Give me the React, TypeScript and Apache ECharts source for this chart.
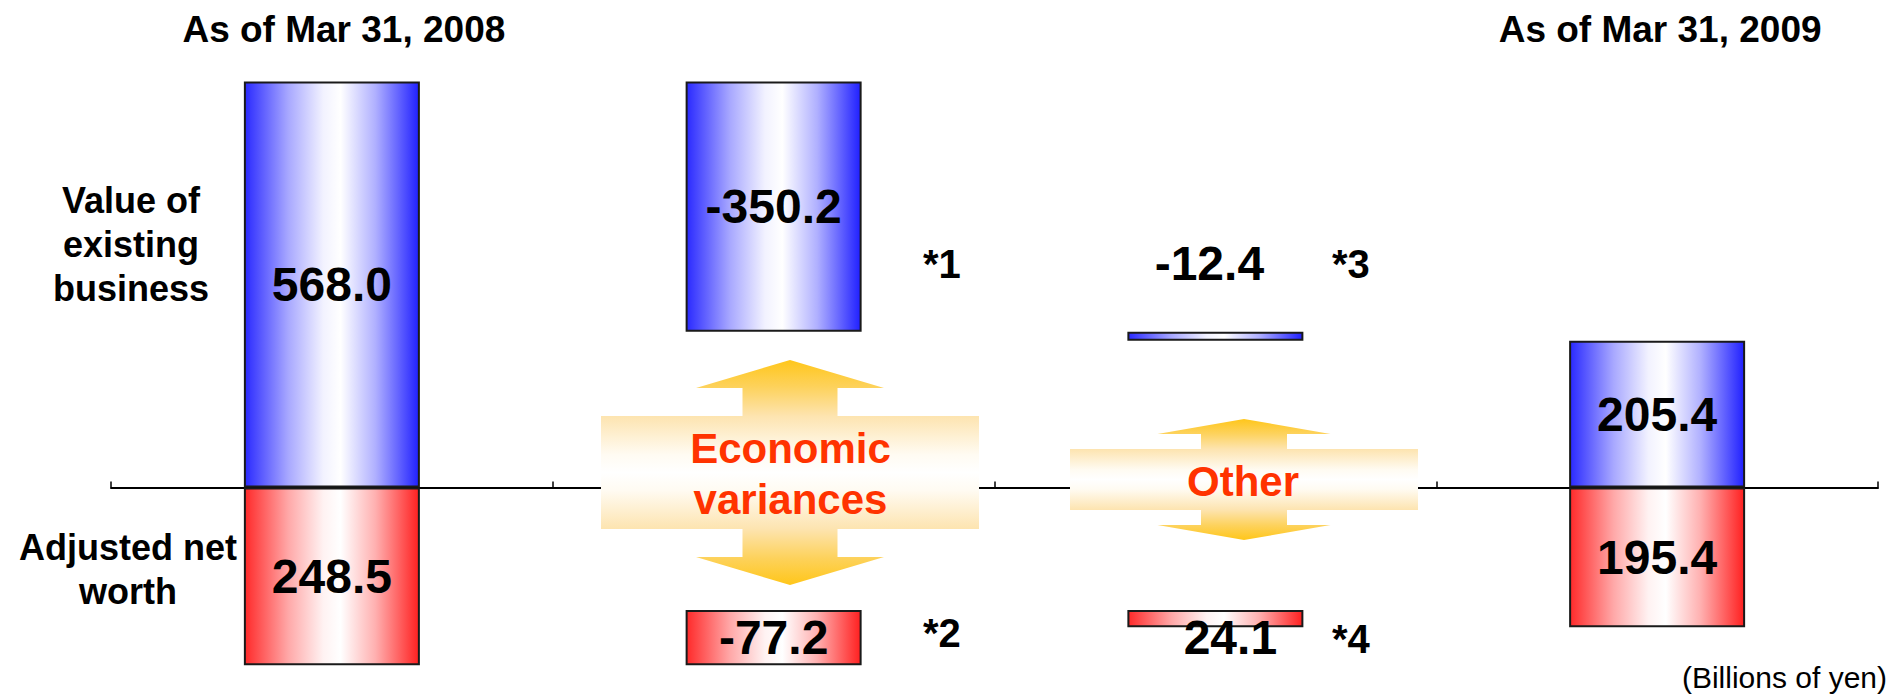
import React, { useEffect, useRef } from "react";
import * as echarts from "echarts";

// Embedded value bridge, billions of yen
const categories = ["As of Mar 31, 2008", "Economic variances", "Other", "As of Mar 31, 2009"];
// opening balance, two movements, closing balance
const existingBusiness = [568.0, -350.2, -12.4, 205.4];
const netWorth = [248.5, -77.2, 24.1, 195.4];
const rowLabels = ["Value of\nexisting\nbusiness", "Adjusted net\nworth"];
const footnotes = ["*1", "*2", "*3", "*4"];
const unitNote = "(Billions of yen)";

const FONT = '"Liberation Sans", Arial, Helvetica, sans-serif';

// Split a bridge into an invisible offset and the visible block.
// dir = 1 stacks upward from the axis, dir = -1 downward.
function bridge(values: number[], dir: number) {
  const base: number[] = [];
  const size: number[] = [];
  let level = 0;
  values.forEach((v, i) => {
    if (i === 0 || i === values.length - 1) {
      base.push(0);
      size.push(dir * v);
      level = v;
    } else {
      const next = level + v;
      base.push(dir * Math.min(level, next));
      size.push(dir * Math.abs(v));
      level = next;
    }
  });
  return { base, size };
}

const hGradient = (edgeL: string, mid1: string, light: string, mid2: string, edgeR: string) => ({
  type: "linear",
  x: 0,
  y: 0,
  x2: 1,
  y2: 0,
  colorStops: [
    { offset: 0, color: edgeL },
    { offset: 0.25, color: mid1 },
    { offset: 0.45, color: light },
    { offset: 0.55, color: "#FFFFFF" },
    { offset: 0.75, color: mid2 },
    { offset: 1, color: edgeR },
  ],
});

const blueFill = hGradient("#2A2AFF", "#A8A8FF", "#F2F2FF", "#B0B0FF", "#2020FF");
const redFill = hGradient("#FF2A2A", "#FFA8A8", "#FFF2F2", "#FFB0B0", "#FF2020");

const arrowFill = {
  type: "linear",
  x: 0,
  y: 0,
  x2: 0,
  y2: 1,
  colorStops: [
    { offset: 0, color: "#FFC61A" },
    { offset: 0.12, color: "#FDD25C" },
    { offset: 0.25, color: "#FDE4B0" },
    { offset: 0.42, color: "#FFFBF2" },
    { offset: 0.5, color: "#FFFFFF" },
    { offset: 0.58, color: "#FFFBF2" },
    { offset: 0.75, color: "#FDE4B0" },
    { offset: 0.88, color: "#FDD25C" },
    { offset: 1, color: "#FFC61A" },
  ],
};

// Cross-shaped double arrow (up/down heads with a wide horizontal band)
function doubleArrow(
  cx: number,
  tip: number,
  headBase: number,
  bandTop: number,
  bandBottom: number,
  headHalf: number,
  shaftHalf: number,
  bandHalf: number
) {
  const mid = (bandTop + bandBottom) / 2;
  const hb2 = 2 * mid - headBase;
  const tip2 = 2 * mid - tip;
  return {
    type: "polygon",
    z: 10,
    silent: true,
    shape: {
      points: [
        [cx, tip],
        [cx + headHalf, headBase],
        [cx + shaftHalf, headBase],
        [cx + shaftHalf, bandTop],
        [cx + bandHalf, bandTop],
        [cx + bandHalf, bandBottom],
        [cx + shaftHalf, bandBottom],
        [cx + shaftHalf, hb2],
        [cx + headHalf, hb2],
        [cx, tip2],
        [cx - headHalf, hb2],
        [cx - shaftHalf, hb2],
        [cx - shaftHalf, bandBottom],
        [cx - bandHalf, bandBottom],
        [cx - bandHalf, bandTop],
        [cx - shaftHalf, bandTop],
        [cx - shaftHalf, headBase],
        [cx - headHalf, headBase],
      ],
    },
    style: { fill: arrowFill, stroke: "none" },
  };
}

const text = (
  x: number,
  y: number,
  str: string,
  size: number,
  opts: { weight?: string; color?: string; align?: string; lineHeight?: number } = {}
) => ({
  type: "text",
  x,
  y,
  z: 11,
  silent: true,
  style: {
    text: str,
    fontFamily: FONT,
    fontSize: size,
    fontWeight: opts.weight ?? "bold",
    fill: opts.color ?? "#000",
    align: opts.align ?? "center",
    verticalAlign: "middle",
    lineHeight: opts.lineHeight ?? size,
  },
});

export default function App() {
  const ref = useRef<HTMLDivElement>(null);

  useEffect(() => {
    if (!ref.current) return;
    const chart = echarts.init(ref.current, null, { renderer: "svg" });

    const veb = bridge(existingBusiness, 1);
    const anw = bridge(netWorth, -1);

    const valueLabel = {
      show: true,
      position: "inside",
      fontFamily: FONT,
      fontSize: 48,
      fontWeight: "bold",
      color: "#000",
      lineHeight: 50,
    };

    const vebData = veb.size.map((v, i) =>
      i === 2
        ? { value: v, label: { position: "top", distance: 43, offset: [-6, 0] } }
        : { value: v }
    );
    const anwData = anw.size.map((v, i) =>
      i === 2 ? { value: v, label: { position: "inside", offset: [15, 19] } } : { value: v }
    );

    const barCommon = {
      type: "bar",
      barWidth: 176,
      barGap: "-100%",
      emphasis: { disabled: true },
    };

    const option = {
      animation: false,
      backgroundColor: "#FFFFFF",
      grid: { left: 111, right: 14, top: 58.5, height: 629.2, containLabel: false },
      xAxis: [
        {
          type: "category",
          data: categories,
          boundaryGap: true,
          axisLine: { onZero: true, lineStyle: { color: "#000", width: 2 } },
          axisTick: { show: true, inside: true, length: 6, lineStyle: { color: "#000", width: 1.5 } },
          axisLabel: { show: false },
          splitLine: { show: false },
        },
        {
          type: "category",
          data: categories,
          position: "top",
          boundaryGap: true,
          axisLine: { show: false },
          axisTick: { show: false },
          splitLine: { show: false },
          axisLabel: {
            interval: 0,
            margin: 9,
            formatter: (v: string, i: number) =>
              i === 0 ? `{a|${v}}` : i === categories.length - 1 ? `{b|${v}}` : "",
            rich: {
              a: {
                fontFamily: FONT,
                fontSize: 37,
                fontWeight: "bold",
                color: "#000",
                lineHeight: 40,
                padding: [0, 0, 0, 24],
              },
              b: {
                fontFamily: FONT,
                fontSize: 37,
                fontWeight: "bold",
                color: "#000",
                lineHeight: 40,
                padding: [0, 0, 0, 6],
              },
            },
          },
        },
      ],
      yAxis: {
        type: "value",
        min: -280,
        max: 600,
        axisLine: { show: false },
        axisTick: { show: false },
        axisLabel: { show: false },
        splitLine: { show: false },
      },
      series: [
        {
          ...barCommon,
          name: "veb-offset",
          stack: "veb",
          silent: true,
          itemStyle: { color: "rgba(0,0,0,0)" },
          data: veb.base,
        },
        {
          ...barCommon,
          name: "Value of existing business",
          stack: "veb",
          itemStyle: { color: blueFill, borderColor: "#1A1A1A", borderWidth: 2 },
          label: {
            ...valueLabel,
            formatter: (p: any) => existingBusiness[p.dataIndex].toFixed(1),
          },
          data: vebData,
        },
        {
          ...barCommon,
          name: "anw-offset",
          stack: "anw",
          silent: true,
          itemStyle: { color: "rgba(0,0,0,0)" },
          data: anw.base,
        },
        {
          ...barCommon,
          name: "Adjusted net worth",
          stack: "anw",
          itemStyle: { color: redFill, borderColor: "#1A1A1A", borderWidth: 2 },
          label: {
            ...valueLabel,
            formatter: (p: any) => netWorth[p.dataIndex].toFixed(1),
          },
          data: anwData,
        },
      ],
      graphic: [
        doubleArrow(790, 360, 388, 416, 529, 94, 47.5, 189),
        doubleArrow(1244, 419, 434, 449, 510, 86.5, 43, 174),
        text(790.5, 474, categories[1].replace(" ", "\n"), 42, { color: "#FF3300", lineHeight: 51 }),
        text(1243, 481.4, categories[2], 42, { color: "#FF3300" }),
        text(131, 244, rowLabels[0], 36, { lineHeight: 44 }),
        text(128, 569.5, rowLabels[1], 36, { lineHeight: 44 }),
        text(923, 264, footnotes[0], 40, { align: "left" }),
        text(923, 633, footnotes[1], 40, { align: "left" }),
        text(1332, 264, footnotes[2], 40, { align: "left" }),
        text(1332, 639, footnotes[3], 40, { align: "left" }),
        text(1887, 677, unitNote, 30, { weight: "normal", align: "right" }),
      ],
    };

    chart.setOption(option as any);
    return () => chart.dispose();
  }, []);

  return (
    <div
      ref={ref}
      style={{ position: "absolute", left: 0, top: 0, width: 1892, height: 694 }}
    />
  );
}
